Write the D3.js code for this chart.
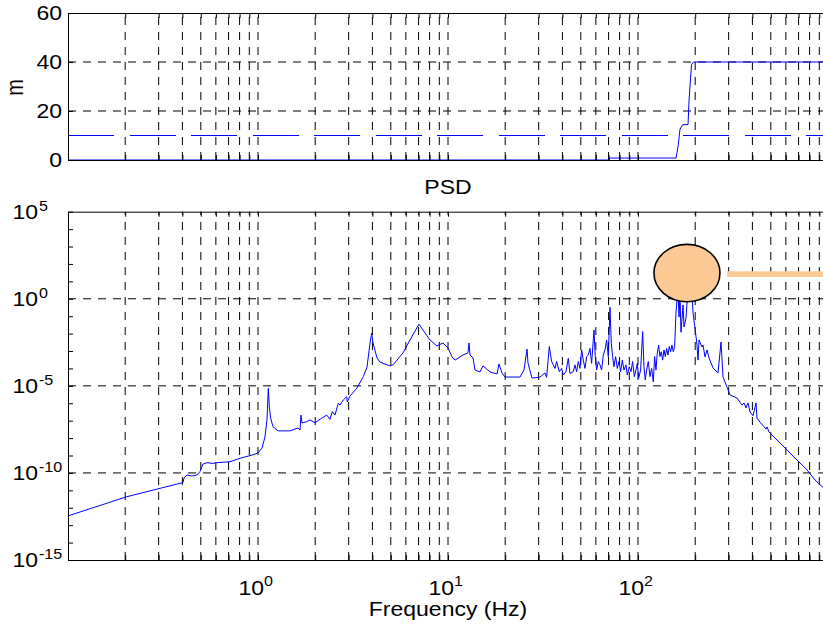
<!DOCTYPE html>
<html>
<head>
<meta charset="utf-8">
<script src="https://cdn.jsdelivr.net/npm/d3@7"></script>
<style>
  body { margin: 0; background: #fff; }
  svg { display: block; }
  text { font-family: "Liberation Sans", Arial, sans-serif; fill: #000; }
</style>
</head>
<body>
<svg id="chart" width="823" height="625"></svg>
<script>
// ---- Upper panel: level trace (m) versus frequency ----
const levelFreq = [0.1, 70.4, 70.8, 158.5, 160.4, 162.4, 166.4, 171.9, 183.4, 185.7, 191.2, 195.9, 1000];
const levelVal  = [0, 0, 0.8, 0.8, 3, 5.3, 12.6, 14.4, 14.5, 24.5, 38.8, 40, 40];
const limitFreq = [0.1, 1000];
const limitVal  = [10, 10];
const levelTicks = [0, 20, 40, 60];

// ---- Lower panel: power spectral density ----
const psdFreq = [
  0.1, 0.204, 0.403, 0.408, 0.423, 0.449, 0.477, 0.495, 0.513, 0.539,
  0.58, 0.608, 0.712, 0.804, 0.941, 1.0, 1.05, 1.088, 1.115, 1.133,
  1.147, 1.166, 1.199, 1.274, 1.474, 1.624, 1.664, 1.684, 1.704, 1.804,
  1.878, 1.995, 2.164, 2.299, 2.393, 2.461, 2.543, 2.646, 2.702, 2.812,
  2.93, 2.951, 3.05, 3.308, 3.584, 3.748, 3.887, 3.967, 4.03, 4.231,
  4.386, 4.951, 5.135, 5.798, 6.31, 7.038, 7.386, 8.043, 8.753, 9.412,
  10.0, 10.5, 10.89, 11.99, 12.74, 12.9, 13.06, 13.54, 13.87, 14.74,
  15.29, 16.64, 18.11, 18.55, 19.24, 19.95, 23.92, 25.12, 26.05, 26.37,
  27.68, 30.5, 32.39,
  33.05, 34.13, 35.11, 35.82, 36.56, 37.31, 38.53, 39.63, 40.44, 41.77,
  42.97, 43.85, 45.65, 46.58, 47.53, 48.5, 49.49, 50.51, 51.53, 52.59,
  53.66, 54.75, 55.87, 57.01, 58.65, 59.6, 60.57, 61.81, 63.08, 64.35,
  65.67, 67.02, 68.37, 69.77, 71.2, 72.36, 73.54, 74.73, 76.26, 77.82,
  79.41, 81.02, 82.68, 84.37, 86.44, 87.84, 89.99, 91.83, 93.71, 95.63,
  97.57, 99.16, 100.8, 103.2, 105.8, 107.5, 109.2, 111.0, 113.3, 115.6,
  118.0, 120.4, 122.3, 124.3, 126.3, 128.4, 130.5, 132.6, 134.8, 137.0,
  139.2, 141.5, 143.8, 146.1, 148.5, 150.9, 153.4, 155.9, 158.4,
  160.4, 162.4, 164.4, 166.4, 168.4, 172.6, 174.7, 178.9, 183.4, 187.8,
  192.4, 194.8, 199.5, 204.4, 206.9, 209.5, 217.2, 219.8, 225.3, 230.8,
  236.5, 248.2, 263.7, 273.5, 280.2, 294.0, 305.0, 331.9, 352.7, 361.4,
  370.2, 379.3, 388.6, 403.0, 417.9, 423.0, 438.6, 471.8, 477.5, 489.3,
  539.0, 608.5, 686.9, 775.5, 854.6, 1000
];
const psdVal = [
  3.4e-13, 4.3e-12, 2.8e-11, 5.1e-11, 7.6e-11, 6.6e-11, 7.6e-11, 1.2e-10, 3.2e-10, 3.9e-10,
  3.5e-10, 3.9e-10, 4.4e-10, 6.9e-10, 1.1e-9, 1.4e-9, 2.7e-9, 1.15e-8, 1.1e-7, 7.2e-6,
  6.3e-7, 1.4e-7, 4.5e-8, 2.6e-8, 2.6e-8, 3.8e-8, 2.9e-8, 2.1e-7, 7.4e-8, 8.7e-8,
  1.1e-7, 7.6e-8, 1.4e-7, 2.1e-7, 1.2e-7, 3.3e-7, 2.1e-7, 1.0e-6, 7.9e-7, 1.55e-6,
  2.4e-6, 1.2e-6, 2.6e-6, 7.2e-6, 3.4e-5, 1.2e-4, 2.9e-3, 1.07e-2, 2.9e-3, 4.0e-4,
  2.3e-4, 1.4e-4, 1.6e-4, 7.8e-4, 4.3e-3, 3.5e-2, 1.6e-2, 4.3e-3, 1.95e-3, 2.9e-3,
  1.5e-3, 4.6e-4, 3.0e-4, 5.9e-4, 7.8e-4, 2.9e-3, 5.9e-4, 4.0e-4, 8.1e-5, 6.3e-5,
  1.4e-4, 6.3e-5, 4.8e-5, 1.8e-4, 5.5e-5, 3.2e-5, 3.2e-5, 8.1e-5, 1.3e-3, 2.0e-4,
  2.8e-5, 3.2e-5, 5.5e-5,
  3.1e-5, 1.8e-3, 2.5e-4, 1.6e-4, 1.0e-4, 2.5e-4, 6.5e-5, 1.0e-4, 4.2e-5, 6.5e-5,
  3.8e-4, 5.2e-5, 6.5e-5, 1.6e-4, 6.5e-5, 2.5e-4, 1.0e-4, 1.15e-3, 3.0e-4, 1.0e-4,
  4.8e-4, 5.9e-4, 1.4e-3, 1.95e-4, 1.6e-2, 4.8e-4, 8.1e-5, 2.5e-4, 1.6e-4, 8.1e-5,
  5.9e-4, 1.15e-3, 4.3e-3, 4.8e-4, 0.32, 2.8e-3, 4.8e-4, 1.26e-4, 4.8e-4, 1.0e-4,
  2.5e-4, 6.5e-5, 3.0e-4, 8.1e-5, 1.6e-4, 4.2e-5, 1.26e-4, 6.5e-5, 2.5e-4, 3.4e-5,
  8.1e-5, 1.95e-4, 2.7e-5, 8.1e-5, 1.3e-2, 1.26e-4, 2.2e-5, 8.1e-5, 2.5e-4, 3.4e-5,
  1.0e-4, 1.7e-5, 4.8e-4, 8.1e-5, 7.4e-4, 2.2e-3, 4.8e-4, 9.1e-4, 3.0e-4, 1.15e-3,
  4.8e-4, 1.4e-3, 5.9e-4, 1.8e-3, 9.1e-4, 2.2e-3, 9.1e-4, 1.8e-3, 0.145,
  0.85, 3.2, 0.089, 1.45, 0.012, 0.44, 0.024, 0.079, 4.2, 0.85,
  2.5, 0.15, 0.021, 2.2e-3, 3.0e-4, 4.3e-3, 1.7e-3, 2.2e-3, 4.6e-4, 1.15e-3,
  4.0e-4, 1.07e-4, 5.5e-5, 3.3e-3, 3.2e-5, 8.5e-6, 3.0e-6, 2.0e-6, 7.9e-7, 1.05e-6,
  5.4e-7, 1.05e-6, 3.2e-7, 1.9e-7, 1.05e-6, 1.4e-7, 8.3e-8, 3.3e-8, 4.4e-8, 2.2e-8,
  7.8e-9, 2.1e-9, 5.5e-10, 1.5e-10, 3.9e-11, 7.9e-12
];
const psdTickExp = [5, 0, -5, -10, -15];
const freqTickExp = [0, 1, 2];

// Highlighted resonance marker and its level indicator
const markerFreq = 181;
const markerPsd = 30;
const levelLineFreq = [294, 1000];
const levelLinePsd = [26, 26];

// ---- Layout ----
const SX = 1.15;           // horizontal stretch of the lettering
const FS = 20;             // base font size
const left = 68, right = 828;
const top1 = 13, bot1 = 160;
const top2 = 211.7, bot2 = 560;

const svg = d3.select('#chart');

const x = d3.scaleLog().domain([0.1, 1000]).range([left, right]);
const yLevel = d3.scaleLinear().domain([0, 60]).range([bot1, top1]);
const yPsd = d3.scaleLog().domain([1e-15, 1e5]).range([bot2, top2]);

const xTicks = [];
for (let d = -1; d <= 2; d++) for (let k = 1; k <= 9; k++) xTicks.push(+(k * Math.pow(10, d)).toPrecision(3));
xTicks.push(1000);
const xGrid = xTicks.filter(v => v > 0.1 && v < 1000);

const psdMinor = d3.range(-15, 6).map(e => Math.pow(10, e));

function text(g, tx, ty, str, size, anchor, extra) {
  return g.append('text')
    .attr('transform', `translate(${tx},${ty}) scale(${SX},1)` + (extra || ''))
    .attr('text-anchor', anchor)
    .style('font-size', size + 'px')
    .text(str);
}

function panel(id, yScale, y0, y1, hGrid) {
  const g = svg.append('g');
  svg.append('clipPath').attr('id', id)
    .append('rect').attr('x', left).attr('y', y1).attr('width', right - left).attr('height', y0 - y1);

  const grid = g.append('g').attr('stroke', '#000').attr('stroke-width', 1)
    .attr('stroke-dasharray', '8,7').attr('fill', 'none');
  grid.selectAll('line.v').data(xGrid).join('line').attr('class', 'v')
    .attr('x1', d => x(d)).attr('x2', d => x(d)).attr('y1', y0).attr('y2', y1);
  grid.selectAll('line.h').data(hGrid).join('line').attr('class', 'h')
    .attr('x1', left).attr('x2', right).attr('y1', d => yScale(d)).attr('y2', d => yScale(d));
  return g;
}

function frame(g, yScale, y0, y1, yTickVals) {
  const noLabel = () => '';
  g.append('g').attr('transform', `translate(0,${y0})`)
    .call(d3.axisBottom(x).tickValues(xTicks).tickSize(-5).tickSizeOuter(0).tickFormat(noLabel));
  g.append('g').attr('transform', `translate(0,${y1})`)
    .call(d3.axisTop(x).tickValues(xTicks).tickSize(-5).tickSizeOuter(0).tickFormat(noLabel));
  g.append('g').attr('transform', `translate(${left},0)`)
    .call(d3.axisLeft(yScale).tickValues(yTickVals).tickSize(-5).tickSizeOuter(0).tickFormat(noLabel));
  g.selectAll('.domain').attr('stroke', '#000').attr('stroke-width', 1);
  g.selectAll('.tick line').attr('stroke', '#000');
}

// ---- Upper panel ----
const g1 = panel('clipTop', yLevel, bot1, top1, [20, 40]);
const levelLine = d3.line().x(d => x(d[0])).y(d => yLevel(d[1]));
g1.append('path')
  .datum(limitFreq.map((f, i) => [f, limitVal[i]]))
  .attr('d', levelLine).attr('fill', 'none').attr('stroke', '#0000ff').attr('stroke-width', 1)
  .attr('shape-rendering', 'crispEdges')
  .attr('stroke-dasharray', '46,15.5').attr('clip-path', 'url(#clipTop)');
g1.append('path')
  .datum(levelFreq.map((f, i) => [f, levelVal[i]]))
  .attr('d', levelLine).attr('fill', 'none').attr('stroke', '#0000ff').attr('stroke-width', 1)
  .attr('clip-path', 'url(#clipTop)');
frame(g1, yLevel, bot1, top1, levelTicks);
levelTicks.forEach(v => text(g1, 62, yLevel(v) + 7, String(v), FS, 'end'));
text(g1, 23, (top1 + bot1) / 2 + 1, 'm', FS, 'middle', ' rotate(-90)');

// ---- Lower panel ----
const g2 = panel('clipPsd', yPsd, bot2, top2, [1e0, 1e-5, 1e-10]);
const psdLine = d3.line().x(d => x(d[0])).y(d => yPsd(d[1]));
g2.append('path')
  .datum(psdFreq.map((f, i) => [f, psdVal[i]]))
  .attr('d', psdLine).attr('fill', 'none').attr('stroke', '#0000ff').attr('stroke-width', 1)
  .attr('stroke-linejoin', 'round').attr('clip-path', 'url(#clipPsd)');
frame(g2, yPsd, bot2, top2, psdMinor);

psdTickExp.forEach(e => {
  const yy = yPsd(Math.pow(10, e));
  text(g2, 38, yy + 7, '10', FS, 'end');
  text(g2, 39, yy - 1, String(e), 14, 'start');
});
freqTickExp.forEach(e => {
  const xx = x(Math.pow(10, e));
  text(g2, xx + 6, 595, '10', FS, 'end');
  text(g2, xx + 6, 586, String(e), 14, 'start');
});
text(g2, (left + right) / 2, 616, 'Frequency (Hz)', FS, 'middle');
text(g2, (left + right) / 2, 194, 'PSD', FS, 'middle');

// Resonance marker with its level indicator
g2.append('path')
  .datum(levelLineFreq.map((f, i) => [f, levelLinePsd[i]]))
  .attr('d', psdLine).attr('fill', 'none').attr('stroke', '#fdcb98').attr('stroke-width', 5.7);
g2.append('ellipse')
  .attr('cx', x(markerFreq)).attr('cy', yPsd(markerPsd))
  .attr('rx', 33).attr('ry', 28.7)
  .attr('fill', '#fdca96').attr('stroke', '#000').attr('stroke-width', 1.6);
</script>
</body>
</html>
